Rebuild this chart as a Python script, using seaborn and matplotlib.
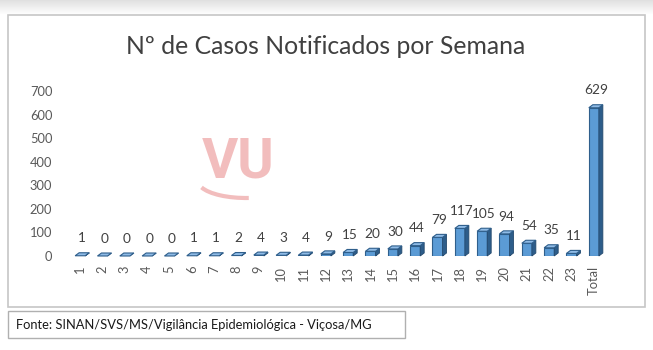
import matplotlib
matplotlib.use("Agg")
import matplotlib.pyplot as plt
import seaborn as sns
import pandas as pd
from matplotlib.patches import Polygon, Rectangle, Arc

# Weekly notified cases (epidemiological weeks 1-23) plus the total
weeks = [str(i) for i in range(1, 24)] + ["Total"]
cases = [1, 0, 0, 0, 0, 1, 1, 2, 4, 3, 4, 9, 15, 20, 30, 44, 79, 117, 105, 94, 54, 35, 11, 629]
y_ticks = [0, 100, 200, 300, 400, 500, 600, 700]

title = "Nº de Casos Notificados por Semana"
source = "Fonte: SINAN/SVS/MS/Vigilância Epidemiológica - Viçosa/MG"

sns.set_theme(style="white")
plt.rcParams["font.family"] = ["Lato", "DejaVu Sans"]

W, H = 653, 350
fig = plt.figure(figsize=(W / 100, H / 100), dpi=100)
fig.patch.set_facecolor("white")

# soft grey band along the top edge
for i in range(14):
    g = 0.88 + 0.11 * (i / 13)
    fig.add_artist(Rectangle((0, 1 - (i + 1) / H), 1, 1 / H, transform=fig.transFigure,
                             facecolor=(g, g, g), edgecolor="none", zorder=0))

# chart frame
fig.add_artist(Rectangle((8 / W, 1 - 307 / H), (645 - 8) / W, (307 - 15) / H,
                         transform=fig.transFigure, facecolor="white",
                         edgecolor="#c6c6c6", linewidth=1.2, zorder=1))
# source box
fig.add_artist(Rectangle((8 / W, 1 - 338 / H), (405 - 8) / W, (338 - 311) / H,
                         transform=fig.transFigure, facecolor="white",
                         edgecolor="#b0b0b0", linewidth=1.0, zorder=1))
fig.text(16 / W, 1 - 325 / H, source, fontsize=9.3, color="#1a1a1a",
         va="center", ha="left", zorder=2)

fig.text(326 / W, 1 - 47 / H, title, fontsize=17.8, color="#404040",
         ha="center", va="center", zorder=2)

# faint watermark logo
fig.text(238 / W, 1 - 163 / H, "VU", fontsize=40, fontweight="bold", family="Roboto",
         color="#f0b2b2", alpha=0.85, ha="center", va="center", zorder=1.5)
fig.add_artist(Arc((246 / W, 1 - 181 / H), 96 / W, 34 / H, theta1=195, theta2=275,
                   transform=fig.transFigure, color="#f0b2b2", linewidth=3, alpha=0.85,
                   zorder=1.5))

ax = fig.add_axes([69 / W, 1 - 256 / H, (605 - 69) / W, (256 - 91) / H])
ax.set_facecolor("none")
ax.set_zorder(3)

df = pd.DataFrame({"semana": weeks, "casos": cases})
sns.barplot(data=df, x="semana", y="casos", color="#5b9bd5", width=0.45,
            saturation=1, edgecolor="#2f5f8c", linewidth=0.8, ax=ax)

ax.set_ylim(0, 700)
ax.set_xlim(-0.5, len(weeks) - 0.5)
ax.set_yticks(y_ticks)
ax.set_yticklabels([str(v) for v in y_ticks])
ax.tick_params(axis="y", length=0, labelsize=9.3, labelcolor="#595959", pad=12)
ax.tick_params(axis="x", length=0, labelsize=9.3, labelcolor="#595959", rotation=90, pad=7)
ax.set_xlabel("")
ax.set_ylabel("")
for s in ax.spines.values():
    s.set_visible(False)

# pseudo-3D depth: top and side faces for each bar
fig.canvas.draw()
bb = ax.get_window_extent()
px_x = bb.width / (len(weeks))
px_y = bb.height / 700
dx = 4 / px_x
dy = 3 / px_y
for p, v in zip(ax.patches, cases):
    x0 = p.get_x()
    w = p.get_width()
    h = p.get_height()
    top = Polygon([(x0, h), (x0 + w, h), (x0 + w + dx, h + dy), (x0 + dx, h + dy)],
                  closed=True, facecolor="#8fbbe6", edgecolor="#2f5f8c", linewidth=0.8,
                  zorder=p.get_zorder() + 0.1, clip_on=False)
    side = Polygon([(x0 + w, 0), (x0 + w + dx, dy), (x0 + w + dx, h + dy), (x0 + w, h)],
                   closed=True, facecolor="#2d5d8a", edgecolor="#24496d", linewidth=0.6,
                   zorder=p.get_zorder() + 0.1, clip_on=False)
    ax.add_patch(side)
    ax.add_patch(top)
    ax.annotate(str(v), (x0 + w / 2 + dx / 2, h + dy), xytext=(0, 6),
                textcoords="offset points", ha="center", va="bottom",
                fontsize=9.8, color="#404040", annotation_clip=False)

fig.savefig("out.png", dpi=100, facecolor="white")
